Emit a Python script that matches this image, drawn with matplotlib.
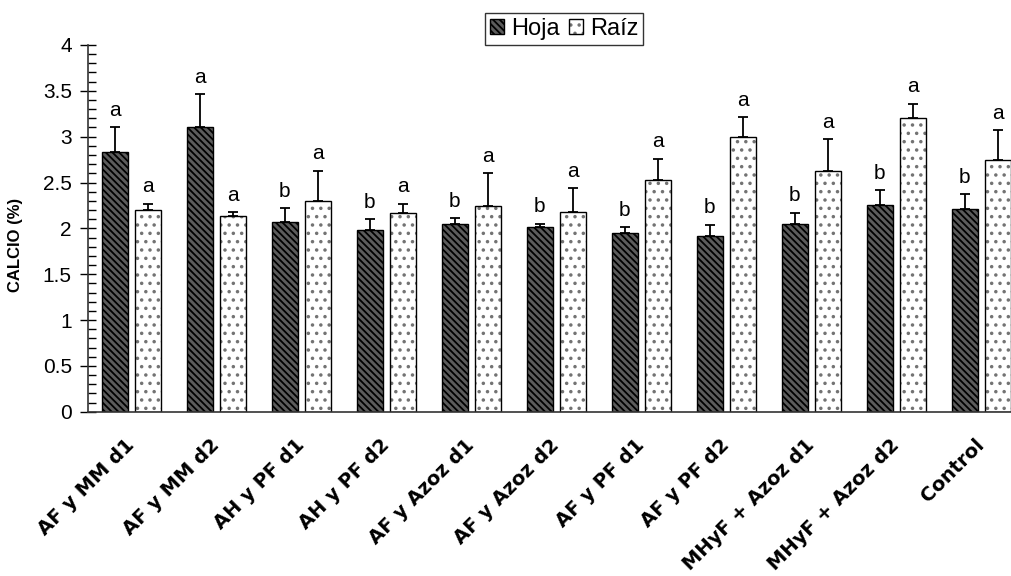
import numpy as np
import matplotlib
matplotlib.use("Agg")
from matplotlib import pyplot as plt
from matplotlib.ticker import MultipleLocator, FuncFormatter
from matplotlib.transforms import ScaledTranslation

plt.rcParams['font.family'] = ['Liberation Sans', 'DejaVu Sans']
plt.rcParams['hatch.linewidth'] = 1.3

tratamientos = ['AF y MM d1', 'AF y MM d2', 'AH y PF d1', 'AH y PF d2', 'AF y Azoz d1',
                'AF y Azoz d2', 'AF y PF d1', 'AF y PF d2', 'MHyF + Azoz d1',
                'MHyF + Azoz d2', 'Control']
hoja = [2.83, 3.10, 2.07, 1.98, 2.05, 2.01, 1.95, 1.92, 2.05, 2.26, 2.21]
hoja_err = [0.27, 0.36, 0.15, 0.12, 0.06, 0.04, 0.06, 0.12, 0.12, 0.16, 0.16]
raiz = [2.20, 2.14, 2.30, 2.17, 2.24, 2.18, 2.53, 3.00, 2.63, 3.20, 2.75]
raiz_err = [0.07, 0.04, 0.33, 0.10, 0.36, 0.26, 0.23, 0.21, 0.34, 0.16, 0.32]
letras_hoja = ['a', 'a', 'b', 'b', 'b', 'b', 'b', 'b', 'b', 'b', 'b']
letras_raiz = ['a'] * 11

x = np.arange(len(tratamientos))
w = 0.31
off = 0.195

fig = plt.figure(figsize=(10.11, 5.76), dpi=100)
ax = fig.add_axes([0.0875, 0.285, 0.9125, 0.637])

b1 = ax.bar(x - off, hoja, w, color='#5c5c5c', edgecolor='black', hatch='\\\\\\\\\\',
            linewidth=1.0, label='Hoja', zorder=2)
b2 = ax.bar(x + off, raiz, w, color='white', edgecolor='black', hatch='..',
            linewidth=1.0, label='Raíz', zorder=2)
# gray dots inside the root bars, black outline
for r in b2:
    r._hatch_color = (0.45, 0.45, 0.45, 1.0)

ax.errorbar(x - off, hoja, yerr=[np.zeros(len(hoja)), hoja_err], fmt='none',
            ecolor='black', elinewidth=1.3, capsize=3.5, capthick=1.3, zorder=3)
ax.errorbar(x + off, raiz, yerr=[np.zeros(len(raiz)), raiz_err], fmt='none',
            ecolor='black', elinewidth=1.3, capsize=3.5, capthick=1.3, zorder=3)

for i in range(len(x)):
    ax.text(x[i] - off, hoja[i] + hoja_err[i] + 0.08, letras_hoja[i],
            ha='center', va='bottom', fontsize=15)
    ax.text(x[i] + off, raiz[i] + raiz_err[i] + 0.08, letras_raiz[i],
            ha='center', va='bottom', fontsize=15)

ax.set_ylim(0, 4)
ax.set_xlim(-0.506, 10.35)
ax.yaxis.set_major_locator(MultipleLocator(0.5))
ax.yaxis.set_minor_locator(MultipleLocator(0.1))
ax.yaxis.set_major_formatter(FuncFormatter(lambda v, p: f'{v:g}'))
ax.tick_params(axis='y', which='major', direction='inout', length=12, width=1,
               labelsize=15, pad=6)
ax.tick_params(axis='y', which='minor', direction='in', length=6, width=1)
ax.set_xticks(x)
ax.set_xticklabels(tratamientos, rotation=45, ha='right', va='center',
                   rotation_mode='anchor', fontsize=14, fontweight='bold',
                   family=['DejaVu Sans'])
shift = ScaledTranslation(3 / 72, 0, fig.dpi_scale_trans)
for lbl in ax.get_xticklabels():
    lbl.set_transform(lbl.get_transform() + shift)
ax.tick_params(axis='x', length=0, pad=22)
ax.set_ylabel('CALCIO (%)', fontsize=12, fontweight='bold')
ax.yaxis.set_label_coords(-0.071, 0.455)

for s in ('top', 'right'):
    ax.spines[s].set_visible(False)
for s in ('left', 'bottom'):
    ax.spines[s].set_color('#333333')
    ax.spines[s].set_linewidth(1.2)

leg = fig.legend(handles=[b1, b2], loc='upper center', bbox_to_anchor=(0.558, 0.977), ncol=2,
                 fontsize=17, frameon=True, fancybox=False, edgecolor='black',
                 handlelength=0.6, handleheight=0.6, handletextpad=0.3,
                 columnspacing=0.4, borderpad=0.2, borderaxespad=0)
leg.get_frame().set_linewidth(1.0)

fig.savefig('out.png', dpi=100)
